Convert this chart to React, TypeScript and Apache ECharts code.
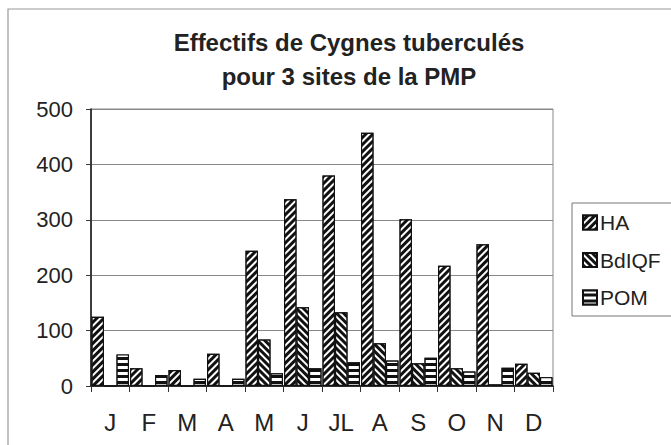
import React, { useEffect, useRef } from "react";
import * as echarts from "echarts";

const categories = ["J", "F", "M", "A", "M", "J", "JL", "A", "S", "O", "N", "D"];
const haValues = [125, 32, 29, 58, 244, 337, 380, 457, 301, 217, 256, 40];
const bdiqfValues = [0, 0, 0, 0, 84, 142, 133, 77, 41, 32, 3, 24];
const pomValues = [57, 20, 13, 13, 23, 32, 43, 46, 51, 26, 33, 16];
const seriesNames = ["HA", "BdIQF", "POM"];
const titleText = "Effectifs de Cygnes tuberculés\npour 3 sites de la PMP";

const FONT = "'Liberation Sans', Arial, sans-serif";

export default function App() {
  const ref = useRef<HTMLDivElement>(null);
  useEffect(() => {
    if (!ref.current) return;
    const chart = echarts.init(ref.current, null, { renderer: "svg" });
    const decalDiag = (rot: number) => ({
      symbol: "rect",
      symbolSize: 1,
      color: "#ffffff",
      dashArrayX: [1, 0],
      dashArrayY: [2, 3],
      rotation: rot,
    });
    const barStyle = (decal: any) => ({
      color: "#111",
      borderColor: "#111",
      borderWidth: 1.2,
      decal,
    });
    const mk = (name: string, data: number[], decal: any) => ({
      name,
      type: "bar",
      data,
      barWidth: 12.5,
      barGap: "0%",
      itemStyle: barStyle(decal),
      emphasis: { disabled: true },
    });
    chart.setOption({
      animation: false,
      aria: { enabled: false },
      title: {
        text: titleText,
        left: 344,
        top: 20,
        textAlign: "center",
        textStyle: {
          fontFamily: FONT,
          fontSize: 24,
          fontWeight: "bold",
          color: "#222",
          lineHeight: 34,
        },
      },
      legend: {
        orient: "vertical",
        left: 572,
        top: 203,
        padding: [9, 12, 8, 10],
        itemWidth: 14,
        itemHeight: 14,
        itemGap: 16.5,
        icon: "rect",
        borderColor: "#777",
        borderWidth: 1,
        textStyle: { fontFamily: FONT, fontSize: 21, color: "#222", lineHeight: 21, padding: [0, 0, 0, -2] },
        data: seriesNames,
      },
      grid: { left: 91, top: 109, right: 118, bottom: 59, show: true, borderColor: "#888", borderWidth: 1 },
      xAxis: {
        type: "category",
        data: categories,
        axisLine: { lineStyle: { color: "#111", width: 1.5 } },
        axisTick: { show: true, length: 6, lineStyle: { color: "#333" } },
        axisLabel: { fontFamily: FONT, fontSize: 24, color: "#222", margin: 24, lineHeight: 24 },
      },
      yAxis: {
        type: "value",
        min: 0,
        max: 500,
        interval: 100,
        axisLine: { show: true, lineStyle: { color: "#111", width: 1.5 } },
        axisTick: { show: true, length: 5, lineStyle: { color: "#333" } },
        axisLabel: { fontFamily: FONT, fontSize: 22, color: "#222", margin: 18 },
        splitLine: { lineStyle: { color: "#888", width: 1 } },
      },
      graphic: [
        {
          type: "rect",
          shape: { x: 8, y: 9, width: 720, height: 500 },
          style: { fill: "none", stroke: "#999", lineWidth: 1.2 },
          silent: true,
        },
      ],
      series: [
        mk(seriesNames[0], haValues, decalDiag(-Math.PI / 4)),
        mk(seriesNames[1], bdiqfValues, decalDiag(Math.PI / 4)),
        mk(seriesNames[2], pomValues, {
          symbol: "rect",
          symbolSize: 1,
          color: "#ffffff",
          dashArrayX: [1, 0],
          dashArrayY: [3, 3],
          rotation: 0,
        }),
      ],
    });
    return () => chart.dispose();
  }, []);
  return (
    <div
      ref={ref}
      style={{ position: "fixed", left: 0, top: 0, width: 671, height: 445, background: "#fff" }}
    />
  );
}
